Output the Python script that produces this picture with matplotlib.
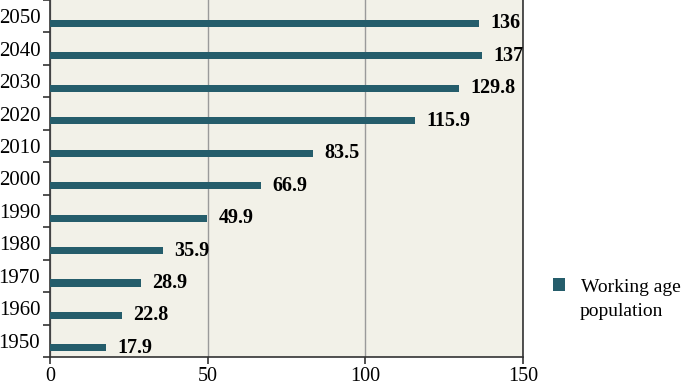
import matplotlib.pyplot as plt
import numpy as np

plt.rcParams.update({
    "font.family": ["Liberation Serif", "DejaVu Serif"],
    "font.size": 14,
})

years = ["1950", "1960", "1970", "1980", "1990", "2000",
         "2010", "2020", "2030", "2040", "2050"]
working_age = [17.9, 22.8, 28.9, 35.9, 49.9, 66.9, 83.5, 115.9, 129.8, 137, 136]

BAR = "#255D6B"
BG = "#F2F1E8"

fig = plt.figure(figsize=(6.85, 3.88), dpi=100)
ax = fig.add_axes([0.073, 0.08, 0.6905, 0.92])
ax.set_facecolor(BG)

y = np.arange(len(years))
bars = ax.barh(y - 0.22, working_age, height=0.22, color=BAR, zorder=3)
for rect, v in zip(bars, working_age):
    ax.annotate(f"{v:g}", xy=(rect.get_width(), rect.get_y() + rect.get_height() / 2),
                xytext=(8, 0), textcoords="offset points",
                ha="left", va="center", fontweight="bold", fontsize=14.5)

ax.set_xlim(0, 150)
ax.set_ylim(-0.5, len(years) - 0.5)
ax.set_xticks([0, 50, 100, 150])
ax.set_yticks(y)
ax.set_yticklabels(years, fontsize=15)
ax.set_yticks(np.arange(len(years) + 1) - 0.5, minor=True)
ax.tick_params(axis="y", which="major", length=0, pad=7)
ax.tick_params(axis="y", which="minor", length=5, width=1.2, color="#333333")
ax.tick_params(axis="x", length=5, width=1.2, color="#333333", pad=2,
               labelsize=14.5)
ax.xaxis.grid(True, color="#9a9a9a", lw=1)
ax.set_axisbelow(True)

for side in ("left", "bottom", "right"):
    ax.spines[side].set_color("#333333")
    ax.spines[side].set_linewidth(1.2)
ax.spines["top"].set_visible(False)

# legend: marker aligned with the first line, second line below
fig.legend(handles=[bars], labels=["Working age"],
           loc="center left", bbox_to_anchor=(0.808, 1 - 287 / 388), frameon=False,
           handlelength=0.6, handleheight=0.6, handletextpad=0.8,
           fontsize=14, borderaxespad=0, borderpad=0)
fig.text(0.8465, 1 - 312 / 388, "population", fontsize=14, va="center", ha="left")

fig.savefig("out.png", dpi=100)
